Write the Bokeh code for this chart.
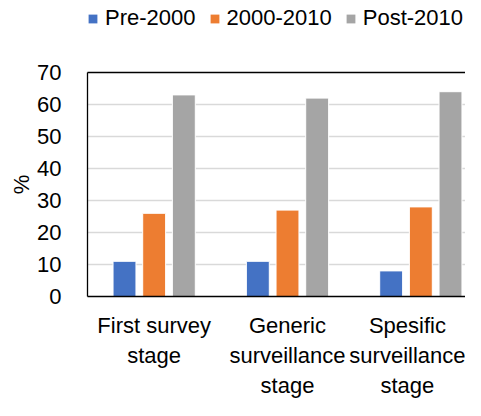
from bokeh.plotting import figure
from bokeh.layouts import column
from bokeh.models import ColumnDataSource, Range1d, FixedTicker, LinearAxis, Legend, LegendItem
from bokeh.embed import file_html
from bokeh.resources import INLINE

categories = ["First survey\nstage", "Generic\nsurveillance\nstage", "Spesific\nsurveillance\nstage"]
series = ["Pre-2000", "2000-2010", "Post-2010"]
pre_2000 = [11, 11, 8]
y2000_2010 = [26, 27, 28]
post_2010 = [63, 62, 64]
colors = ["#4472C4", "#ED7D31", "#A5A5A5"]
y_ticks = [0, 10, 20, 30, 40, 50, 60, 70]

FONT = "Liberation Sans"

# ---- legend strip ----
lg = figure(width=465, height=45, output_backend="svg", toolbar_location=None,
            x_range=Range1d(0, 1), y_range=Range1d(0, 1),
            x_axis_type=None, y_axis_type=None,
            min_border_left=87, min_border_right=0, min_border_top=0, min_border_bottom=0)
lg.grid.visible = False
lg.outline_line_color = None
leg_renderers = []
for name, col in zip(series, colors):
    # off-range placeholder bars, only used to draw the legend swatches
    r = lg.vbar(x=[10], top=[1], width=0.1, fill_color=col, line_color=None)
    leg_renderers.append(r)
legend = Legend(items=[LegendItem(label=s, renderers=[r]) for s, r in zip(series, leg_renderers)],
                orientation="horizontal", location=(0, 14),
                glyph_width=11, glyph_height=11, label_standoff=7, spacing=13,
                padding=0, margin=0, border_line_color=None, background_fill_alpha=0,
                label_text_font=FONT, label_text_font_size="22px", label_text_color="black")
lg.add_layout(legend, "center")

# ---- main chart ----
p = figure(width=465, height=355, output_backend="svg", toolbar_location=None,
           x_range=Range1d(0, 2.835), y_range=Range1d(0, 70),
           min_border_left=87, min_border_right=0, min_border_top=27, min_border_bottom=104)
p.outline_line_color = None
p.background_fill_color = "white"
p.border_fill_color = "white"

offsets = [-0.2225, 0.0, 0.2225]
bar_w = 0.172
values = [pre_2000, y2000_2010, post_2010]
for k, (name, vals, col) in enumerate(zip(series, values, colors)):
    src = ColumnDataSource(dict(x=[i + 0.5 + offsets[k] for i in range(len(categories))], top=vals))
    p.vbar(x="x", top="top", width=bar_w, bottom=0, source=src,
           fill_color=col, line_color="white", line_width=1)

p.xaxis.ticker = FixedTicker(ticks=[i + 0.5 for i in range(len(categories))])
p.xaxis.major_label_overrides = {i + 0.5: c for i, c in enumerate(categories)}
p.xaxis.major_tick_line_color = None
p.xaxis.minor_tick_line_color = None
p.xaxis.axis_line_color = "black"
p.xaxis.axis_line_width = 1.3
p.xaxis.major_label_text_font = FONT
p.xaxis.major_label_text_font_size = "22px"
p.xaxis.major_label_text_color = "black"
p.xaxis.major_label_standoff = 10

p.yaxis.ticker = FixedTicker(ticks=y_ticks)
p.yaxis.major_tick_line_color = None
p.yaxis.minor_tick_line_color = None
p.yaxis.axis_line_color = "black"
p.yaxis.axis_line_width = 1.3
p.yaxis.major_label_text_font = FONT
p.yaxis.major_label_text_font_size = "22px"
p.yaxis.major_label_text_color = "black"
p.yaxis.major_label_standoff = 20
p.yaxis.axis_label = "%"
p.yaxis.axis_label_text_font = FONT
p.yaxis.axis_label_text_font_size = "22px"
p.yaxis.axis_label_text_font_style = "normal"
p.yaxis.axis_label_text_color = "black"
p.yaxis.axis_label_standoff = 0

top_axis = LinearAxis(ticker=FixedTicker(ticks=[]), axis_line_color="black", axis_line_width=1.3,
                      major_tick_line_color=None, minor_tick_line_color=None,
                      major_label_text_font_size="0px")
p.add_layout(top_axis, "above")

p.xgrid.grid_line_color = None
p.ygrid.ticker = FixedTicker(ticks=y_ticks)
p.ygrid.grid_line_color = "#D9D9D9"
p.ygrid.grid_line_width = 1.5

open("out.html", "w").write(file_html(column(lg, p, spacing=0), INLINE))
